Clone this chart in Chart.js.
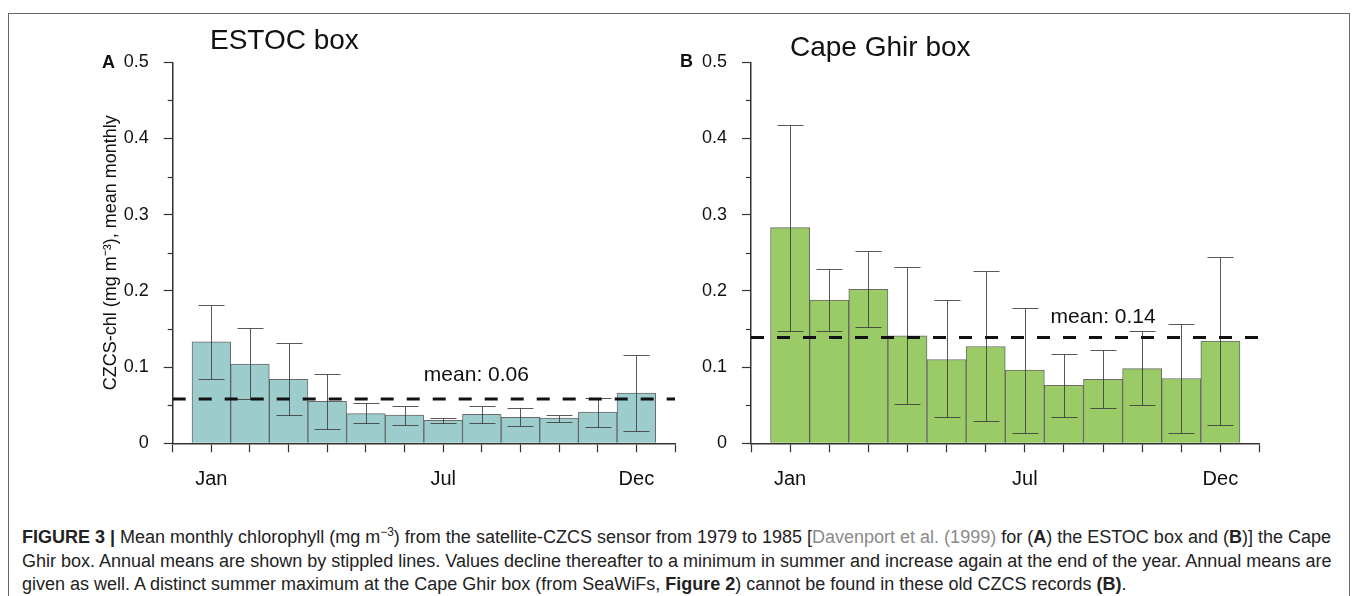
<!DOCTYPE html>
<html>
<head>
<meta charset="utf-8">
<script src="https://cdn.jsdelivr.net/npm/chart.js@4.4.1/dist/chart.umd.min.js"></script>
<style>
  body { margin: 0; background: #fff; font-family: 'Liberation Sans', Arial, sans-serif; }
  #page { position: relative; width: 1357px; height: 596px; overflow: hidden; }
  #frame { position: absolute; left: 8px; top: 13px; width: 1340px; height: 600px;
           border: 1px solid #666; border-bottom: none; }
  .cv { position: absolute; top: 0; }
  .title { position: absolute; font-size: 28px; color: #111; white-space: nowrap; }
  .panel { position: absolute; font-size: 18px; font-weight: bold; color: #111; }
  #caption { position: absolute; left: 22px; top: 526px; font-size: 18px; line-height: 23.5px; color: #222; white-space: nowrap; }
  #caption sup { font-size: 12px; line-height: 0; }
  .gray { color: #8a8a8a; }
</style>
</head>
<body>
<div id="page">
  <div id="frame"></div>
  <canvas id="chartA" class="cv" style="left:0px" width="690" height="500"></canvas>
  <canvas id="chartB" class="cv" style="left:690px" width="610" height="500"></canvas>
  <div class="title" style="left:210px; top:24px;">ESTOC box</div>
  <div class="title" style="left:790px; top:31px;">Cape Ghir box</div>
  <div class="panel" style="left:102px; top:52px;">A</div>
  <div class="panel" style="left:680px; top:51px;">B</div>
  <div id="caption">
    <div><b>FIGURE 3 |</b> Mean monthly chlorophyll (mg m<sup>−3</sup>) from the satellite-CZCS sensor from 1979 to 1985 [<span class="gray">Davenport et al. (1999)</span> for (<b>A</b>) the ESTOC box and (<b>B</b>)] the Cape</div>
    <div>Ghir box. Annual means are shown by stippled lines. Values decline thereafter to a minimum in summer and increase again at the end of the year. Annual means are</div>
    <div>given as well. A distinct summer maximum at the Cape Ghir box (from SeaWiFs, <b>Figure 2</b>) cannot be found in these old CZCS records <b>(B)</b>.</div>
  </div>
</div>
<script>
const months = ['Jan', 'Feb', 'Mar', 'Apr', 'May', 'Jun', 'Jul', 'Aug', 'Sep', 'Oct', 'Nov', 'Dec'];
const xTickLabels = ['', 'Jan', '', '', '', '', '', 'Jul', '', '', '', '', 'Dec', ''];

// ESTOC box (A)
const estocValues = [0.133, 0.104, 0.084, 0.055, 0.039, 0.037, 0.030, 0.038, 0.034, 0.033, 0.041, 0.066];
const estocHigh   = [0.181, 0.151, 0.131, 0.091, 0.053, 0.049, 0.033, 0.049, 0.046, 0.037, 0.060, 0.116];
const estocLow    = [0.084, 0.058, 0.037, 0.019, 0.026, 0.024, 0.027, 0.026, 0.023, 0.028, 0.021, 0.016];
const estocMean = 0.058;

// Cape Ghir box (B)
const ghirValues = [0.283, 0.188, 0.202, 0.141, 0.110, 0.127, 0.096, 0.076, 0.084, 0.098, 0.085, 0.134];
const ghirHigh   = [0.418, 0.229, 0.252, 0.231, 0.188, 0.226, 0.177, 0.117, 0.122, 0.147, 0.156, 0.244];
const ghirLow    = [0.148, 0.147, 0.153, 0.052, 0.034, 0.029, 0.014, 0.035, 0.046, 0.050, 0.014, 0.024];
const ghirMean = 0.139;

Chart.defaults.font.family = "'Liberation Sans', Arial, sans-serif";
Chart.defaults.color = '#111';

// error bars, minor y ticks and the "mean" text
const extrasPlugin = {
    id: 'extras',
    afterDatasetDraw(chart, args, opts) {
        if (args.index !== 0) return;
        const { ctx, scales: { x, y } } = chart;
        ctx.save();
        ctx.strokeStyle = 'rgba(60,60,60,0.85)';
        ctx.lineWidth = 1;
        opts.high.forEach((h, i) => {
            const px = Math.round(x.getPixelForValue(i + 1)) + 0.5;
            const top = Math.round(y.getPixelForValue(h)) + 0.5;
            const bot = Math.round(y.getPixelForValue(opts.low[i])) + 0.5;
            ctx.beginPath();
            ctx.moveTo(px, top); ctx.lineTo(px, bot);
            ctx.moveTo(px - 13, top); ctx.lineTo(px + 13, top);
            ctx.moveTo(px - 13, bot); ctx.lineTo(px + 13, bot);
            ctx.stroke();
        });
        ctx.restore();
    },
    afterDraw(chart, args, opts) {
        const { ctx, scales: { x, y } } = chart;
        ctx.save();
        ctx.strokeStyle = '#333';
        ctx.lineWidth = 1.2;
        for (let v = 0.05; v < 0.5; v += 0.1) {
            const py = Math.round(y.getPixelForValue(v)) + 0.5;
            ctx.beginPath();
            ctx.moveTo(y.right - 5, py);
            ctx.lineTo(y.right, py);
            ctx.stroke();
        }
        ctx.font = "21px 'Liberation Sans', Arial, sans-serif";
        ctx.fillStyle = '#111';
        ctx.textAlign = 'left';
        ctx.textBaseline = 'middle';
        ctx.fillText(opts.text, x.getPixelForValue(opts.labelAt), y.getPixelForValue(opts.mean) - opts.labelDy);
        ctx.restore();
    }
};

function makePanel(id, cfg) {
    const ctx = document.getElementById(id).getContext('2d');
    return new Chart(ctx, {
        type: 'bar',
        data: {
            datasets: [{
                data: months.map((m, i) => ({ x: i + 1, y: cfg.values[i] })),
                backgroundColor: cfg.color,
                borderColor: 'rgba(70,70,70,0.8)',
                borderWidth: 1,
                barPercentage: 1,
                categoryPercentage: 1,
                order: 0
            }, {
                type: 'line',
                data: [{ x: 0, y: cfg.mean }, { x: 13, y: cfg.mean }],
                borderColor: '#111',
                borderWidth: 3,
                borderDash: [13, 13],
                pointRadius: 0,
                order: -1
            }]
        },
        options: {
            responsive: false,
            animation: false,
            layout: { padding: cfg.padding },
            plugins: {
                legend: { display: false },
                tooltip: { enabled: false },
                extras: {
                    high: cfg.high, low: cfg.low, mean: cfg.mean,
                    text: cfg.meanText,
                    labelAt: cfg.labelAt, labelDy: cfg.labelDy
                }
            },
            scales: {
                x: {
                    type: 'linear',
                    min: 0, max: 13,
                    offset: false,
                    grid: { display: true, offset: false, drawOnChartArea: false, drawTicks: true, tickLength: 9, tickColor: '#333', tickWidth: 1.2 },
                    border: { display: true, color: '#333', width: 1.5 },
                    ticks: {
                        stepSize: 1, autoSkip: false, maxRotation: 0, padding: 15,
                        font: { size: 20 }, color: '#111',
                        callback: v => xTickLabels[v] || ''
                    },
                    afterFit: s => { s.height = 50; }
                },
                y: {
                    min: 0, max: 0.5,
                    grid: { display: true, drawOnChartArea: false, drawTicks: true, tickLength: 9, tickColor: '#333', tickWidth: 1.2 },
                    border: { display: true, color: '#333', width: 1.5 },
                    ticks: {
                        stepSize: 0.1, padding: 15,
                        font: { size: 18 }, color: '#111',
                        callback: v => v === 0 ? '0' : v.toFixed(1)
                    },
                    title: cfg.yTitle ? {
                        display: true, text: cfg.yTitle, color: '#111',
                        font: { size: 18 }, padding: { top: 100, bottom: 0 }
                    } : { display: false },
                    afterFit: s => { s.width = cfg.yWidth; }
                }
            }
        },
        plugins: [extrasPlugin]
    });
}

makePanel('chartA', {
    values: estocValues, high: estocHigh, low: estocLow, mean: estocMean,
    meanText: 'mean: 0.06',
    color: '#9dcccc',
    yTitle: 'CZCS-chl (mg m⁻³), mean monthly',
    yWidth: 172.7,
    padding: { left: 0, right: 8.3, top: 62.3, bottom: 6.7 },
    labelAt: 6.5, labelDy: 24
});

makePanel('chartB', {
    values: ghirValues, high: ghirHigh, low: ghirLow, mean: ghirMean,
    meanText: 'mean: 0.14',
    color: '#9bcb67',
    yTitle: null,
    yWidth: 61,
    padding: { left: 0, right: 40.5, top: 62.3, bottom: 6.7 },
    labelAt: 7.66, labelDy: 20
});
</script>
</body>
</html>
